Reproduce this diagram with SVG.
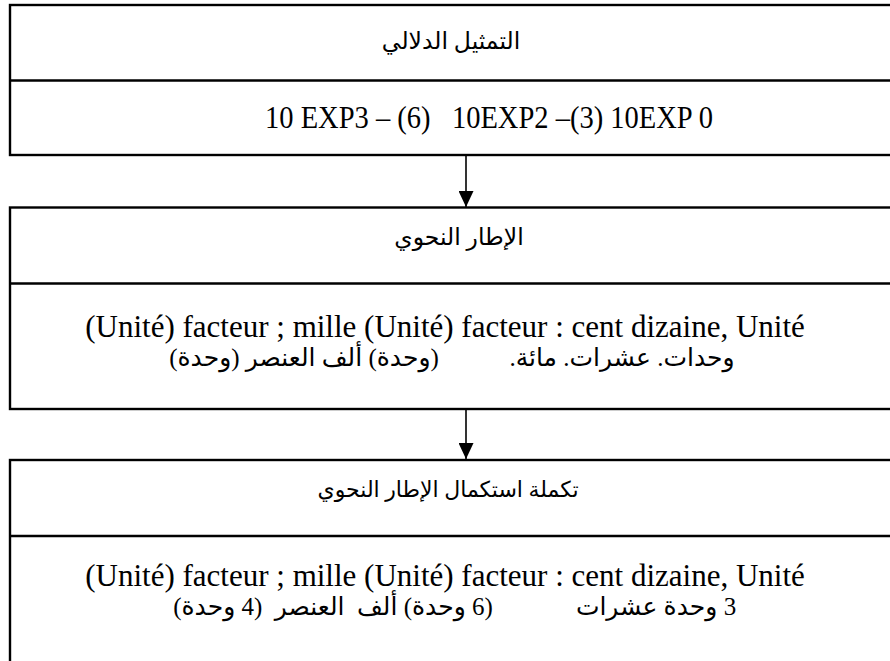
<svg xmlns="http://www.w3.org/2000/svg" width="890" height="661" viewBox="0 0 890 661">
<style>
.box{fill:#fff;stroke:#000;stroke-width:2.4}
.div{stroke:#000;stroke-width:2.4}
.lat{font-family:"Liberation Serif","Times New Roman",serif;font-size:31px;fill:#000;text-anchor:middle;white-space:pre}
.ar{font-family:"Liberation Serif","DejaVu Sans","Noto Sans",sans-serif;font-size:23.5px;fill:#000;text-anchor:middle;white-space:pre;direction:rtl;unicode-bidi:embed}
.arb{font-size:25px}
.conn{stroke:#000;stroke-width:1.6;fill:none}
</style>
<defs>
<marker id="ah" viewBox="0 0 16 15" refX="16" refY="7.5" markerWidth="16" markerHeight="15" markerUnits="userSpaceOnUse" orient="auto">
<path d="M0,0 L16,7.5 L0,15 Z" fill="#000"/>
</marker>
</defs>
<rect width="890" height="661" fill="#fff"/>
<g id="connectors">
<line class="conn" x1="466" y1="156" x2="466" y2="207" marker-end="url(#ah)"/>
<line class="conn" x1="466" y1="409" x2="466" y2="459" marker-end="url(#ah)"/>
</g>
<g id="semantic">
<rect class="box" x="10" y="5" width="900" height="150"/>
<line class="div" x1="10" y1="80.5" x2="900" y2="80.5"/>
<text class="ar" x="451" y="49">التمثيل الدلالي</text>
<text class="lat" x="489" y="128" textLength="448" lengthAdjust="spacingAndGlyphs">10 EXP3 – (6)   10EXP2 –(3) 10EXP 0</text>
</g>
<g id="syntactic">
<rect class="box" x="10" y="207.5" width="900" height="201.5"/>
<line class="div" x1="10" y1="283.5" x2="900" y2="283.5"/>
<text class="ar" x="459" y="245">الإطار النحوي</text>
<text class="lat" x="445" y="337">(Unité) facteur ; mille (Unité) facteur : cent dizaine, Unité</text>
<text class="ar arb" x="622" y="366">وحدات. عشرات. مائة.</text>
<text class="ar arb" x="304" y="366">(وحدة) ألف العنصر (وحدة)</text>
</g>
<g id="completion">
<rect class="box" x="10" y="460" width="900" height="230"/>
<line class="div" x1="10" y1="536" x2="900" y2="536"/>
<text class="ar" x="448" y="497" style="font-size:22px">تكملة استكمال الإطار النحوي</text>
<text class="lat" x="445" y="586">(Unité) facteur ; mille (Unité) facteur : cent dizaine, Unité</text>
<text class="ar arb" x="656" y="615">3 وحدة عشرات</text>
<text class="ar arb" x="333" y="615">(6 وحدة) ألف  العنصر  (4 وحدة)</text>
</g>
</svg>
